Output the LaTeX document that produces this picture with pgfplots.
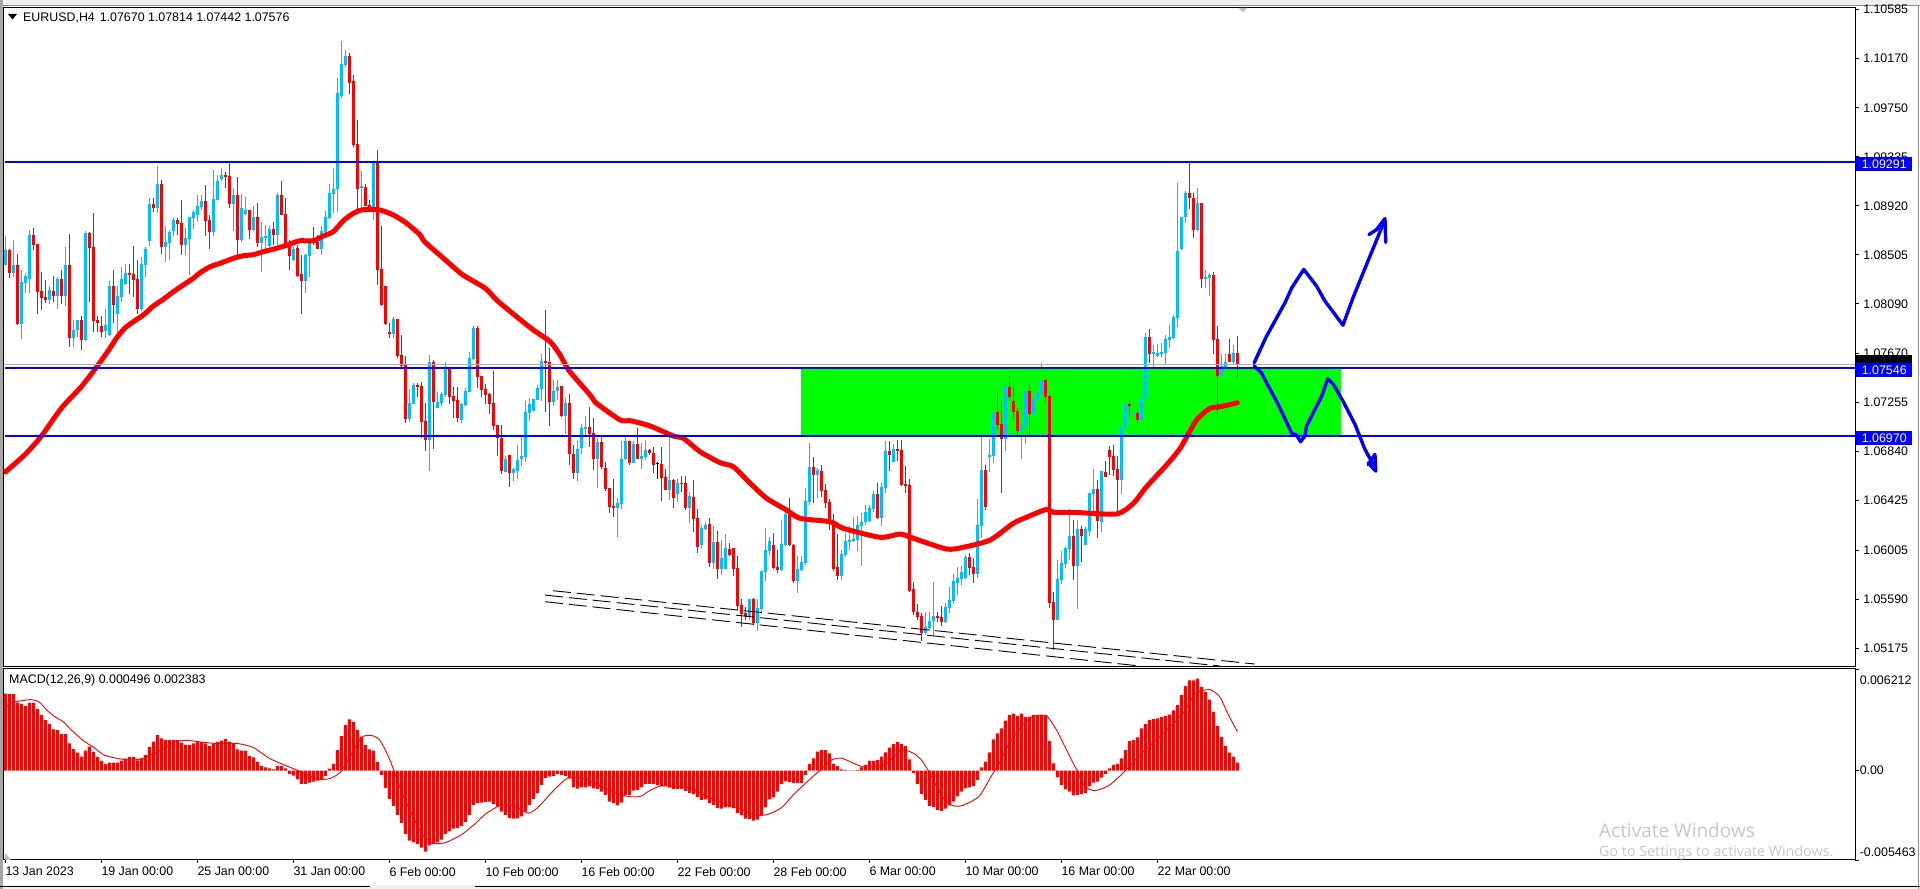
\documentclass[border=0pt]{standalone}
\usepackage{fontspec}
\setmainfont{Liberation Sans}
\newfontfamily\winfont{Open Sans}
\usepackage{pgfplots}
\usepackage{pgfplotstable}
\pgfplotsset{compat=1.18}
\definecolor{bullc}{HTML}{00BFFF}
\definecolor{bearc}{HTML}{FF0000}
\definecolor{zonec}{HTML}{00FF00}
\definecolor{linec}{HTML}{0000FF}
\definecolor{chrome}{HTML}{F0F0F0}
\newcommand{\mt}{\fontsize{12.4}{14}\selectfont}

% H4 candles: bar open high low close
\pgfplotstableread{
i o h l c
0 1.08419 1.08665 1.08419 1.08546
2 1.08354 1.08631 1.08320 1.08419
4 1.07922 1.08377 1.07795 1.08275
5 1.08269 1.08354 1.08185 1.08326
6 1.08301 1.08715 1.08179 1.08673
11 1.08123 1.08241 1.08089 1.08207
13 1.08157 1.08320 1.08046 1.08301
15 1.08157 1.08569 1.08072 1.08419
17 1.07801 1.07953 1.07727 1.07869
18 1.07869 1.07953 1.07806 1.07953
20 1.07784 1.08710 1.07775 1.08690
25 1.07860 1.08046 1.07798 1.07911
26 1.07826 1.08286 1.07818 1.08241
28 1.08004 1.08241 1.07835 1.08157
29 1.08148 1.08399 1.08109 1.08301
30 1.08258 1.08428 1.08250 1.08351
34 1.08044 1.08484 1.08029 1.08428
35 1.08419 1.08569 1.08320 1.08555
36 1.08622 1.08986 1.08580 1.08936
38 1.08902 1.09257 1.08857 1.09105
40 1.08572 1.08749 1.08444 1.08614
41 1.08605 1.08715 1.08461 1.08699
42 1.08707 1.08817 1.08665 1.08800
45 1.08588 1.08732 1.08504 1.08648
46 1.08639 1.08826 1.08334 1.08826
47 1.08817 1.08885 1.08727 1.08868
48 1.08843 1.09012 1.08795 1.08919
49 1.08910 1.09012 1.08885 1.08961
52 1.08699 1.09224 1.08665 1.08978
53 1.08970 1.09181 1.08970 1.09130
54 1.09147 1.09238 1.09130 1.09181
57 1.08936 1.09071 1.08707 1.09012
59 1.08631 1.09020 1.08614 1.08902
60 1.08851 1.08995 1.08843 1.08885
62 1.08715 1.08919 1.08707 1.08826
64 1.08603 1.08783 1.08360 1.08656
65 1.08648 1.08758 1.08546 1.08665
66 1.08580 1.08749 1.08574 1.08724
68 1.08673 1.09029 1.08588 1.09012
72 1.08461 1.08580 1.08453 1.08555
75 1.08284 1.08512 1.08182 1.08504
76 1.08495 1.08622 1.08317 1.08622
79 1.08555 1.08749 1.08504 1.08707
80 1.08699 1.08876 1.08665 1.08826
81 1.08817 1.09105 1.08809 1.09029
82 1.09020 1.09241 1.08859 1.09063
83 1.09063 1.10000 1.08868 1.09873
84 1.09850 1.10316 1.09831 1.10121
85 1.10110 1.10240 1.10099 1.10189
89 1.09074 1.09215 1.08885 1.09088
92 1.08907 1.09294 1.08800 1.09294
97 1.07835 1.07979 1.07798 1.07962
101 1.07114 1.07368 1.07089 1.07250
102 1.07241 1.07419 1.07241 1.07402
106 1.06936 1.07656 1.06674 1.07597
108 1.07207 1.07343 1.07207 1.07258
109 1.07250 1.07343 1.07224 1.07326
110 1.07317 1.07597 1.07303 1.07546
114 1.07106 1.07250 1.07080 1.07241
115 1.07230 1.07377 1.07224 1.07351
116 1.07343 1.07682 1.07343 1.07631
117 1.07622 1.07902 1.07614 1.07885
125 1.06665 1.06801 1.06665 1.06775
127 1.06657 1.06699 1.06589 1.06691
128 1.06674 1.06894 1.06606 1.06767
129 1.06775 1.06970 1.06716 1.06801
130 1.06792 1.07267 1.06750 1.07173
131 1.07165 1.07292 1.07097 1.07241
132 1.07182 1.07284 1.07182 1.07284
133 1.07275 1.07402 1.07275 1.07377
134 1.07368 1.07665 1.07267 1.07605
137 1.07258 1.07444 1.07224 1.07351
138 1.07351 1.07444 1.07275 1.07385
140 1.07140 1.07292 1.06987 1.07250
143 1.06657 1.06928 1.06589 1.06860
144 1.06869 1.07072 1.06818 1.07038
145 1.07030 1.07140 1.06970 1.07046
148 1.06775 1.06953 1.06530 1.06919
153 1.06360 1.06445 1.06115 1.06403
154 1.06394 1.06928 1.06352 1.06775
155 1.06775 1.06962 1.06767 1.06928
157 1.06742 1.06928 1.06742 1.06903
159 1.06775 1.06911 1.06691 1.06801
160 1.06792 1.06936 1.06767 1.06852
166 1.06513 1.06962 1.06428 1.06598
168 1.06479 1.06606 1.06411 1.06572
171 1.06360 1.06496 1.06233 1.06462
174 1.06047 1.06217 1.06013 1.06191
175 1.06183 1.06242 1.06174 1.06217
177 1.05895 1.06208 1.05844 1.06073
179 1.05844 1.06089 1.05793 1.05937
180 1.05844 1.06140 1.05844 1.06022
186 1.05446 1.05590 1.05412 1.05590
188 1.05386 1.05590 1.05319 1.05514
189 1.05505 1.05827 1.05471 1.05827
190 1.05818 1.06191 1.05742 1.06005
191 1.05996 1.06115 1.05962 1.06081
194 1.05835 1.06259 1.05827 1.06056
195 1.06047 1.06344 1.06039 1.06310
198 1.05742 1.05954 1.05640 1.05844
199 1.05835 1.05954 1.05827 1.05903
200 1.05895 1.06530 1.05878 1.06420
201 1.06411 1.06911 1.06386 1.06707
203 1.06640 1.06699 1.06445 1.06682
209 1.05784 1.06005 1.05750 1.05971
210 1.05962 1.06149 1.05945 1.06081
211 1.06072 1.06208 1.06005 1.06089
212 1.06081 1.06284 1.06072 1.06098
213 1.06089 1.06292 1.05996 1.06216
214 1.06208 1.06318 1.05869 1.06242
215 1.06242 1.06386 1.06216 1.06326
216 1.06250 1.06386 1.06242 1.06360
217 1.06352 1.06504 1.06326 1.06479
219 1.06276 1.06572 1.06208 1.06538
220 1.06530 1.06928 1.06487 1.06843
222 1.06750 1.06902 1.06750 1.06860
230 1.05302 1.05479 1.05285 1.05352
231 1.05344 1.05479 1.05319 1.05403
232 1.05403 1.05734 1.05276 1.05446
235 1.05395 1.05556 1.05386 1.05522
236 1.05513 1.05691 1.05471 1.05581
237 1.05573 1.05801 1.05547 1.05742
238 1.05725 1.05861 1.05623 1.05767
239 1.05759 1.05869 1.05708 1.05818
240 1.05767 1.05962 1.05759 1.05945
243 1.05801 1.06436 1.05767 1.06216
244 1.06208 1.07004 1.06106 1.06682
246 1.06795 1.06945 1.06665 1.06809
247 1.06801 1.07359 1.06741 1.07173
250 1.06945 1.07444 1.06843 1.07393
254 1.07012 1.07326 1.06775 1.07055
255 1.07046 1.07478 1.06902 1.07351
257 1.07156 1.07478 1.07139 1.07283
258 1.07275 1.07402 1.07275 1.07334
259 1.07326 1.07588 1.07317 1.07444
263 1.05412 1.05920 1.05412 1.05759
264 1.05750 1.05996 1.05717 1.05894
265 1.05886 1.06030 1.05852 1.06021
266 1.06013 1.06352 1.05920 1.06123
268 1.05869 1.06259 1.05505 1.06182
270 1.06047 1.06199 1.06047 1.06182
271 1.06165 1.06487 1.06123 1.06487
272 1.06479 1.06691 1.06318 1.06521
274 1.06242 1.06674 1.06157 1.06674
279 1.06597 1.07046 1.06479 1.07046
280 1.07038 1.07300 1.07029 1.07241
282 1.07160 1.07249 1.07105 1.07173
284 1.07105 1.07376 1.07029 1.07292
285 1.07289 1.07840 1.07233 1.07812
287 1.07665 1.07741 1.07552 1.07679
288 1.07648 1.07750 1.07637 1.07671
289 1.07668 1.07755 1.07637 1.07679
290 1.07671 1.07826 1.07572 1.07789
291 1.07784 1.07911 1.07713 1.07806
292 1.07798 1.07995 1.07789 1.07981
293 1.07973 1.09116 1.07891 1.08537
294 1.08554 1.08822 1.08546 1.08822
295 1.08822 1.09045 1.08772 1.09026
298 1.08715 1.09068 1.08707 1.08941
300 1.08303 1.08376 1.08221 1.08317
301 1.08311 1.08348 1.08159 1.08334
304 1.07481 1.07665 1.07402 1.07563
305 1.07552 1.07665 1.07552 1.07594
307 1.07594 1.07741 1.07572 1.07671
}\bullbars

\pgfplotstableread{
i o h l c
1 1.08546 1.08555 1.08306 1.08354
3 1.08419 1.08512 1.07911 1.07917
7 1.08673 1.08730 1.08546 1.08588
8 1.08597 1.08597 1.08004 1.08193
9 1.08199 1.08360 1.08038 1.08140
10 1.08148 1.08292 1.08100 1.08123
12 1.08199 1.08326 1.08109 1.08157
14 1.08301 1.08377 1.08089 1.08157
16 1.08419 1.08682 1.07722 1.07801
19 1.07953 1.07987 1.07699 1.07784
21 1.08687 1.08701 1.08109 1.08563
22 1.08572 1.08859 1.07854 1.07945
23 1.07953 1.07987 1.07854 1.07928
24 1.07902 1.07987 1.07809 1.07852
27 1.08241 1.08377 1.07925 1.08080
31 1.08351 1.08428 1.08173 1.08334
32 1.08343 1.08580 1.08151 1.08292
33 1.08301 1.08461 1.08004 1.08046
37 1.08936 1.08986 1.08868 1.08902
39 1.09105 1.09139 1.08512 1.08572
43 1.08800 1.08817 1.08673 1.08766
44 1.08775 1.08970 1.08504 1.08588
50 1.08961 1.09097 1.08665 1.08792
51 1.08800 1.08843 1.08555 1.08699
55 1.09181 1.09207 1.09071 1.09164
56 1.09173 1.09291 1.08902 1.08936
58 1.09012 1.09164 1.08495 1.08631
61 1.08885 1.08885 1.08639 1.08715
63 1.08826 1.08944 1.08572 1.08605
67 1.08724 1.08783 1.08588 1.08673
69 1.09012 1.09130 1.08843 1.08843
70 1.08851 1.08986 1.08574 1.08588
71 1.08588 1.08631 1.08377 1.08495
73 1.08563 1.08588 1.08317 1.08326
74 1.08343 1.08504 1.08004 1.08284
77 1.08648 1.08741 1.08588 1.08614
78 1.08614 1.08673 1.08555 1.08555
86 1.10189 1.10212 1.09867 1.09963
87 1.09977 1.10028 1.09421 1.09435
88 1.09441 1.09647 1.08885 1.09063
90 1.09080 1.09105 1.08919 1.08919
91 1.08930 1.08970 1.08893 1.08910
93 1.09291 1.09393 1.08250 1.08377
94 1.08385 1.08749 1.08072 1.08080
95 1.08241 1.08241 1.07911 1.07919
96 1.07852 1.07925 1.07798 1.07835
98 1.07961 1.07961 1.07628 1.07648
99 1.07656 1.07826 1.07557 1.07563
100 1.07572 1.07648 1.07080 1.07114
103 1.07402 1.07419 1.07303 1.07385
104 1.07394 1.07428 1.06953 1.07089
105 1.07097 1.07250 1.06843 1.06936
107 1.07597 1.07614 1.06860 1.07258
111 1.07546 1.07546 1.07241 1.07300
112 1.07309 1.07385 1.07123 1.07267
113 1.07275 1.07385 1.07089 1.07123
118 1.07885 1.07902 1.07377 1.07470
119 1.07478 1.07478 1.07300 1.07360
120 1.07368 1.07411 1.07241 1.07317
121 1.07326 1.07334 1.07157 1.07241
122 1.07250 1.07521 1.07021 1.07055
123 1.07063 1.07063 1.06801 1.06953
124 1.06953 1.07063 1.06648 1.06674
126 1.06809 1.06809 1.06538 1.06657
135 1.07605 1.08037 1.07173 1.07588
136 1.07597 1.07715 1.07055 1.07258
139 1.07394 1.07394 1.07131 1.07140
141 1.07250 1.07326 1.06725 1.06818
142 1.06818 1.06894 1.06606 1.06657
146 1.07046 1.07216 1.06877 1.06987
147 1.06996 1.07123 1.06682 1.06775
149 1.06919 1.06962 1.06691 1.06708
150 1.06699 1.06750 1.06504 1.06521
151 1.06530 1.06530 1.06318 1.06369
152 1.06377 1.06606 1.06284 1.06360
156 1.06928 1.06928 1.06725 1.06742
158 1.06903 1.07038 1.06775 1.06775
161 1.06852 1.06860 1.06809 1.06826
162 1.06826 1.06877 1.06657 1.06725
164 1.06733 1.06877 1.06420 1.06615
165 1.06623 1.06691 1.06513 1.06513
167 1.06598 1.06606 1.06360 1.06445
169 1.06575 1.06631 1.06496 1.06560
170 1.06572 1.06631 1.06344 1.06360
172 1.06454 1.06598 1.06157 1.06267
173 1.06276 1.06352 1.05979 1.06030
176 1.06225 1.06276 1.05861 1.05895
178 1.06073 1.06166 1.05759 1.05844
181 1.06013 1.06064 1.05954 1.05962
182 1.06022 1.06022 1.05785 1.05844
183 1.05852 1.05954 1.05497 1.05530
184 1.05539 1.05590 1.05353 1.05463
185 1.05471 1.05522 1.05412 1.05446
187 1.05590 1.05598 1.05370 1.05386
192 1.06047 1.06149 1.05844 1.05852
193 1.05861 1.06005 1.05810 1.05835
196 1.06327 1.06445 1.06039 1.06047
197 1.06047 1.06056 1.05725 1.05742
202 1.06707 1.06792 1.06403 1.06640
204 1.06674 1.06724 1.06453 1.06504
205 1.06513 1.06563 1.06360 1.06403
206 1.06411 1.06436 1.06174 1.06250
207 1.06250 1.06309 1.05827 1.05844
208 1.05861 1.06140 1.05750 1.05784
218 1.06479 1.06572 1.06267 1.06276
221 1.06843 1.06928 1.06674 1.06809
223 1.06860 1.06936 1.06758 1.06843
224 1.06851 1.06936 1.06547 1.06555
225 1.06563 1.06716 1.06487 1.06547
226 1.06555 1.06606 1.05649 1.05657
227 1.05674 1.05734 1.05454 1.05479
228 1.05479 1.05547 1.05412 1.05437
229 1.05446 1.05471 1.05234 1.05302
233 1.05446 1.05479 1.05395 1.05429
234 1.05437 1.05530 1.05361 1.05395
241 1.05945 1.05979 1.05793 1.05852
242 1.05861 1.05937 1.05725 1.05801
245 1.06682 1.06724 1.06343 1.06369
248 1.07173 1.07359 1.07021 1.07063
249 1.07072 1.07266 1.06487 1.06945
251 1.07385 1.07478 1.07266 1.07300
252 1.07266 1.07393 1.07105 1.07173
253 1.07182 1.07207 1.06978 1.07012
256 1.07351 1.07427 1.06978 1.07156
260 1.07444 1.07453 1.07249 1.07300
261 1.07309 1.07317 1.05516 1.05556
262 1.05564 1.05649 1.05158 1.05412
267 1.06123 1.06259 1.05750 1.05869
269 1.06182 1.06208 1.05903 1.06123
273 1.06521 1.06597 1.06106 1.06250
275 1.06665 1.06758 1.06623 1.06623
276 1.06851 1.06885 1.06640 1.06792
277 1.06801 1.06894 1.06631 1.06682
278 1.06691 1.06801 1.06318 1.06597
281 1.07241 1.07275 1.07122 1.07224
283 1.07165 1.07216 1.07080 1.07105
286 1.07806 1.07877 1.07586 1.07665
296 1.09026 1.09285 1.08893 1.08983
297 1.08983 1.09026 1.08650 1.08715
299 1.08941 1.08941 1.08227 1.08303
302 1.08334 1.08362 1.07665 1.07784
303 1.07789 1.07902 1.07120 1.07481
306 1.07665 1.07789 1.07594 1.07594
308 1.07670 1.07814 1.07442 1.07576
}\bearbars

% moving average, read off at its bends
\pgfplotstableread{
i p
0 1.06665
4.8 1.06809
8.9 1.06964
14 1.07205
19 1.07388
23.2 1.07572
26.2 1.07716
27.8 1.07800
29.9 1.07885
32 1.07938
34.5 1.07995
37 1.08071
39.5 1.08128
42 1.08192
44.5 1.08249
47 1.08306
48.7 1.08353
51.2 1.08404
53.7 1.08433
57 1.08475
59.5 1.08497
62 1.08506
64.5 1.08531
67.8 1.08560
70.3 1.08585
72 1.08607
73.7 1.08624
77 1.08624
79.5 1.08664
82 1.08701
84.5 1.08794
87 1.08856
89 1.08884
91.2 1.08890
93.7 1.08884
97 1.08842
100.3 1.08772
103.7 1.08673
104.8 1.08616
110 1.08461
114.4 1.08334
120 1.08221
122.8 1.08122
127.8 1.07981
132 1.07868
136.2 1.07769
138.7 1.07656
140.8 1.07529
146.2 1.07317
147.8 1.07247
153.7 1.07106
156.2 1.07100
161.2 1.07055
167 1.06970
169.5 1.06951
173.7 1.06837
178.7 1.06744
182 1.06710
186.2 1.06570
190.3 1.06443
195.3 1.06343
198.7 1.06273
206.2 1.06244
209.5 1.06188
218.7 1.06112
223.7 1.06140
227 1.06104
235.3 1.06013
239.5 1.06028
246.2 1.06089
252 1.06231
256.2 1.06295
260.3 1.06349
262 1.06324
267 1.06324
277.8 1.06310
282 1.06400
285.3 1.06541
290.3 1.06725
293.7 1.06866
297.8 1.07106
301.2 1.07205
303.7 1.07218
308 1.07252
}\matable

% MACD histogram
\pgfplotstableread{
i v
0 0.00471
1 0.00467
2 0.00467
3 0.00416
4 0.00408
5 0.00394
6 0.00414
7 0.00414
8 0.00376
9 0.00339
10 0.00309
11 0.00284
12 0.00252
13 0.00248
14 0.00223
15 0.00223
16 0.00166
17 0.00132
18 0.00110
19 0.00085
20 0.00122
21 0.00146
22 0.00114
23 0.00083
24 0.00059
25 0.00041
26 0.00049
27 0.00049
28 0.00049
29 0.00061
30 0.00073
31 0.00083
32 0.00083
33 0.00063
34 0.00075
35 0.00095
36 0.00144
37 0.00177
38 0.00217
39 0.00197
40 0.00187
41 0.00187
42 0.00187
43 0.00187
44 0.00171
45 0.00158
46 0.00158
47 0.00166
48 0.00175
49 0.00175
50 0.00166
51 0.00150
52 0.00166
53 0.00175
54 0.00183
55 0.00193
56 0.00177
57 0.00166
58 0.00130
59 0.00122
60 0.00122
61 0.00089
62 0.00081
63 0.00055
64 0.00028
65 0.00020
66 0.00014
67 0.00008
68 0.00028
69 0.00028
70 0.00014
71 -0.00020
72 -0.00030
73 -0.00053
74 -0.00081
75 -0.00081
76 -0.00073
77 -0.00067
78 -0.00061
79 -0.00053
80 -0.00032
81 0.00012
82 0.00041
83 0.00126
84 0.00211
85 0.00278
86 0.00313
87 0.00298
88 0.00248
89 0.00207
90 0.00156
91 0.00130
92 0.00122
93 0.00053
94 -0.00026
95 -0.00106
96 -0.00173
97 -0.00215
98 -0.00270
99 -0.00319
100 -0.00386
101 -0.00428
102 -0.00438
103 -0.00447
104 -0.00471
105 -0.00495
106 -0.00457
107 -0.00447
108 -0.00438
109 -0.00422
110 -0.00386
111 -0.00371
112 -0.00355
113 -0.00351
114 -0.00337
115 -0.00313
116 -0.00270
117 -0.00209
118 -0.00199
119 -0.00195
120 -0.00191
121 -0.00189
122 -0.00203
123 -0.00219
124 -0.00250
125 -0.00270
126 -0.00290
127 -0.00294
128 -0.00292
129 -0.00280
130 -0.00250
131 -0.00209
132 -0.00173
133 -0.00138
134 -0.00087
135 -0.00045
136 -0.00037
137 -0.00032
138 -0.00020
139 -0.00026
140 -0.00032
141 -0.00047
142 -0.00102
143 -0.00110
144 -0.00102
145 -0.00102
146 -0.00097
147 -0.00108
148 -0.00112
149 -0.00128
150 -0.00148
151 -0.00189
152 -0.00199
153 -0.00213
154 -0.00195
155 -0.00148
156 -0.00148
157 -0.00122
158 -0.00118
159 -0.00102
160 -0.00081
161 -0.00081
162 -0.00081
163 -0.00087
164 -0.00097
165 -0.00097
166 -0.00104
167 -0.00112
168 -0.00112
169 -0.00112
170 -0.00124
171 -0.00138
172 -0.00144
173 -0.00162
174 -0.00179
175 -0.00175
176 -0.00199
177 -0.00209
178 -0.00229
179 -0.00233
180 -0.00225
181 -0.00225
182 -0.00229
183 -0.00260
184 -0.00274
185 -0.00294
186 -0.00296
187 -0.00305
188 -0.00300
189 -0.00274
190 -0.00225
191 -0.00175
192 -0.00164
193 -0.00128
194 -0.00081
195 -0.00065
196 -0.00071
197 -0.00077
198 -0.00077
199 -0.00077
200 -0.00026
201 0.00041
202 0.00075
203 0.00116
204 0.00126
205 0.00126
206 0.00106
207 0.00041
208 0.00028
209 0.00008
210 0.00004
211 -0.00002
212 0.00002
213 0.00004
214 0.00020
215 0.00035
216 0.00059
217 0.00059
218 0.00065
219 0.00085
220 0.00112
221 0.00140
222 0.00162
223 0.00175
224 0.00162
225 0.00150
226 0.00069
227 -0.00016
228 -0.00081
229 -0.00142
230 -0.00179
231 -0.00215
232 -0.00223
233 -0.00240
234 -0.00246
235 -0.00233
236 -0.00213
237 -0.00189
238 -0.00158
239 -0.00128
240 -0.00108
241 -0.00102
242 -0.00093
243 -0.00057
244 0.00020
245 0.00055
246 0.00112
247 0.00191
248 0.00227
249 0.00258
250 0.00305
251 0.00339
252 0.00349
253 0.00333
254 0.00349
255 0.00329
256 0.00329
257 0.00339
258 0.00339
259 0.00339
260 0.00339
261 0.00181
262 0.00045
263 -0.00041
264 -0.00087
265 -0.00114
266 -0.00128
267 -0.00152
268 -0.00148
269 -0.00144
270 -0.00138
271 -0.00097
272 -0.00073
273 -0.00067
274 -0.00043
275 -0.00020
276 0.00014
277 0.00035
278 0.00041
279 0.00075
280 0.00126
281 0.00181
282 0.00187
283 0.00203
284 0.00258
285 0.00284
286 0.00309
287 0.00315
288 0.00319
289 0.00329
290 0.00335
291 0.00343
292 0.00369
293 0.00400
294 0.00461
295 0.00516
296 0.00552
297 0.00552
298 0.00562
299 0.00512
300 0.00481
301 0.00434
302 0.00359
303 0.00274
304 0.00207
305 0.00150
306 0.00110
307 0.00085
308 0.00049
}\histtable

% MACD signal line
\pgfplotstableread{
i v
0 0.00384
1.7 0.00416
3.8 0.00426
6.3 0.00434
8.4 0.00420
10.4 0.00369
12.4 0.00329
14.5 0.00298
16.5 0.00248
19.6 0.00181
22.1 0.00142
24.7 0.00095
28.3 0.00073
31.3 0.00065
33.9 0.00071
36.4 0.00095
39.5 0.00136
42.6 0.00177
45.6 0.00185
48.7 0.00175
52.8 0.00166
57.9 0.00166
61.9 0.00142
66 0.00075
69.1 0.00041
73.2 0.00000
78.3 -0.00053
81.3 -0.00047
83.9 -0.00006
86.4 0.00095
89 0.00203
91.5 0.00215
93.6 0.00187
95.6 0.00095
97.1 0.00004
99.2 -0.00138
101.7 -0.00270
104.3 -0.00392
106.8 -0.00443
109.9 -0.00441
114 -0.00392
117.6 -0.00321
120.1 -0.00264
123.7 -0.00213
127.2 -0.00215
130.8 -0.00260
133.4 -0.00219
136.4 -0.00138
140.5 -0.00047
144.6 -0.00047
148.7 -0.00093
152.8 -0.00138
155.8 -0.00158
158.7 -0.00158
160.7 -0.00128
163.8 -0.00093
167.8 -0.00097
171.4 -0.00108
175.5 -0.00158
180.1 -0.00205
183.2 -0.00229
187.2 -0.00270
190.3 -0.00270
193.9 -0.00229
197 -0.00148
200.5 -0.00067
203.6 0.00000
206.6 0.00065
209.2 0.00075
214.3 0.00024
219.9 0.00035
224 0.00126
227 0.00106
229 0.00065
231.1 -0.00016
234.2 -0.00158
236.7 -0.00213
239.3 -0.00213
243.4 -0.00158
246.4 -0.00037
248.5 0.00045
250.5 0.00146
253.6 0.00258
256.6 0.00329
260.2 0.00335
262.8 0.00248
265.3 0.00126
267.9 0.00000
269.9 -0.00097
272.5 -0.00122
276.1 -0.00087
280.2 0.00004
283.2 0.00085
286.3 0.00156
290.4 0.00248
294.4 0.00349
297.5 0.00471
301.1 0.00495
303.6 0.00451
305.6 0.00349
308 0.00238
}\signaltable

\begin{document}
\begin{tikzpicture}[x=1pt,y=1pt]
\useasboundingbox (0,0) rectangle (1920,889);
\fill[white] (0,0) rectangle (1920,889);
% terminal window around the panes
\fill[chrome] (0,884) rectangle (1920,889);
\fill[chrome] (0,0) rectangle (1920,4);
\draw[black!45,line width=1pt] (0,883.5) -- (1920,883.5);
\fill[black!35] (0,0) rectangle (2.5,889);
\draw[black!45,line width=1pt] (1918,0) -- (1918,884);
\draw[black,line width=1pt] (0,2) -- (370,2);
\draw[black,line width=1pt] (475,2) -- (1920,2);

% price pane
\begin{axis}[
    at={(4pt,222pt)}, anchor=south west,
    scale only axis, width=1851pt, height=659pt,
    xmin=-0.33, xmax=462.42,
    ymin=1.05014, ymax=1.10595,
    xtick=\empty,
    axis line style={line width=1pt},
    tick style={black,line width=0.8pt},
    major tick length=4pt,
    tick align=outside,
    ytick pos=right,
    yticklabel pos=right,
    scaled y ticks=false,
    ytick={1.05175,1.05590,1.06005,1.06425,1.06840,1.07255,1.07670,1.08090,1.08505,1.08920,1.09335,1.09750,1.10170,1.10585},
    yticklabels={1.05175,1.05590,1.06005,1.06425,1.06840,1.07255,1.07670,1.08090,1.08505,1.08920,1.09335,1.09750,1.10170,1.10585},
    yticklabel style={font=\mt,anchor=west,inner xsep=0pt,xshift=4pt},
]
% demand zone
\addplot[fill=zonec,draw=none,forget plot] coordinates {(198.9,1.07546) (333.9,1.07546) (333.9,1.06970) (198.9,1.06970)} -- cycle;
% wicks
\addplot[draw=none,mark=none,error bars/.cd,y dir=minus,y explicit,error mark=none,
    error bar style={draw=bullc,line width=1pt}]
    table[x=i,y=h,y error minus expr=\thisrow{h}-\thisrow{l}] {\bullbars};
\addplot[draw=none,mark=none,error bars/.cd,y dir=minus,y explicit,error mark=none,
    error bar style={draw=bearc,line width=1pt}]
    table[x=i,y=h,y error minus expr=\thisrow{h}-\thisrow{l}] {\bearbars};
% bodies
\addplot[draw=none,mark=none,error bars/.cd,y dir=minus,y explicit,error mark=none,
    error bar style={draw=bullc,line width=3pt}]
    table[x=i,y=c,y error minus expr=\thisrow{c}-\thisrow{o}] {\bullbars};
\addplot[draw=none,mark=none,error bars/.cd,y dir=minus,y explicit,error mark=none,
    error bar style={draw=bearc,line width=3pt}]
    table[x=i,y=o,y error minus expr=\thisrow{o}-\thisrow{c}] {\bearbars};
\addplot[black,line width=1pt] coordinates {(163,1.06750) (163,1.06606)};
\addplot[black,line width=1pt] coordinates {(162.6,1.06735) (163.4,1.06735)};
% moving average
\addplot[bearc,line width=5pt,line join=round,line cap=round,smooth,tension=0.4] table[x=i,y=p] {\matable};
% levels
\addplot[black!30,line width=1.2pt] coordinates {(0,1.07576) (462.42,1.07576)};
\addplot[linec,line width=2pt] coordinates {(0,1.09291) (462.42,1.09291)};
\addplot[linec,line width=2pt] coordinates {(0,1.07546) (462.42,1.07546)};
\addplot[linec,line width=2pt] coordinates {(0,1.06970) (462.42,1.06970)};
% channel
\addplot[black,line width=0.9pt,dash pattern=on 18pt off 6pt] coordinates {(136.9,1.05660) (312.4,1.05039)};
\addplot[black,line width=0.9pt,dash pattern=on 18pt off 6pt] coordinates {(134.9,1.05623) (303.7,1.05022)};
\addplot[black,line width=0.9pt,dash pattern=on 18pt off 6pt] coordinates {(134.9,1.05567) (283.7,1.05022)};
% hand drawn scenarios
\addplot[linec,line width=3.4pt,line join=round,line cap=round] coordinates {
(312.2,1.07590) (315.3,1.07816) (319.9,1.08098) (321.6,1.08225) (324.6,1.08381)
(327.8,1.08240) (329.9,1.08113) (334.4,1.07909) (336.9,1.08140) (340.3,1.08423) (344.9,1.08803)};
\addplot[linec,line width=3.4pt,line join=round,line cap=round] coordinates {(340.9,1.08676) (342.8,1.08718) (344.9,1.08811) (345.1,1.08609)};
\addplot[linec,line width=3.4pt,line join=round,line cap=round] coordinates {
(312.2,1.07563) (314,1.07506) (315.3,1.07421) (318.2,1.07238) (321.6,1.06993) (322.8,1.06979)
(323.8,1.06922) (324.9,1.06970) (325.3,1.07055) (327,1.07168) (329.1,1.07309) (330.6,1.07455)
(332,1.07408) (334.4,1.07266) (337.4,1.07069) (339.9,1.06857) (342.4,1.06701)};
\addplot[linec,line width=3.4pt,line join=round,line cap=round] coordinates {(340.7,1.06729) (342.4,1.06814) (342.6,1.06673) (340.7,1.06743)};
\coordinate (lbA) at (axis cs:462.42,1.09291);
\coordinate (lbB) at (axis cs:462.42,1.07546);
\coordinate (lbC) at (axis cs:462.42,1.06970);
\coordinate (lbD) at (axis cs:462.42,1.07576);
\end{axis}

% MACD pane
\begin{axis}[
    at={(4pt,29pt)}, anchor=south west,
    scale only axis, width=1851pt, height=191pt,
    xmin=-0.33, xmax=462.42,
    ymin=-0.005463, ymax=0.006212,
    axis line style={line width=1pt},
    tick style={black,line width=0.8pt},
    major tick length=3.5pt,
    tick align=outside,
    xtick pos=bottom,
    ytick pos=right,
    yticklabel pos=right,
    scaled y ticks=false,
    xtick={0,24,48,72,96,120,144,168,192,216,240,264,288},
    xticklabels={13 Jan 2023,19 Jan 00:00,25 Jan 00:00,31 Jan 00:00,6 Feb 00:00,10 Feb 00:00,16 Feb 00:00,22 Feb 00:00,28 Feb 00:00,6 Mar 00:00,10 Mar 00:00,16 Mar 00:00,22 Mar 00:00},
    xticklabel style={font=\mt,anchor=north west,inner xsep=0pt,inner ysep=0pt,yshift=-3.5pt},
    ytick={-0.005463,0,0.006212},
    yticklabels={\raisebox{15pt}{-0.005463},0.00,\raisebox{-32pt}{0.006212}},
    yticklabel style={font=\mt,anchor=west,inner xsep=0pt,xshift=1pt},
]
\addplot[ybar,bar width=3pt,bar shift=0pt,fill=bearc,draw=none] table[x=i,y=v] {\histtable};
\addplot[bearc,line width=0.9pt,line join=round,smooth,tension=0.4] table[x=i,y=v] {\signaltable};
\end{axis}

% last price and level labels
\node[fill=black,text=white,minimum width=56pt,minimum height=8pt,inner sep=0pt,anchor=west,font=\mt] at ([xshift=1pt,yshift=5pt]lbD) {};
\foreach \c/\t in {lbA/1.09291,lbB/1.07546,lbC/1.06970}
  \node[fill=linec,text=white,minimum width=56pt,minimum height=14pt,inner sep=0pt,anchor=west,font=\mt] at ([xshift=1pt,yshift=-2pt]\c) {\t};

% pane captions
\node[anchor=west,inner sep=0pt,font=\mt] at (23,871) {EURUSD,H4\hspace{5pt}1.07670 1.07814 1.07442 1.07576};
\fill[black] (8,875) -- (17,875) -- (12.5,869.5) -- cycle;
\node[anchor=west,inner sep=0pt,font=\mt] at (9,209) {MACD(12,26,9) 0.000496 0.002383};
\fill[black!25] (5,29) -- (5,36) -- (11,29) -- cycle;
\fill[black!25] (1239,881) -- (1247,881) -- (1243,876.5) -- cycle;

% watermark
\node[anchor=west,inner sep=0pt,text=black!22,font=\winfont\fontsize{19}{22}\selectfont] at (1599,59) {Activate Windows};
\node[anchor=west,inner sep=0pt,text=black!22,font=\winfont\fontsize{14.3}{15}\selectfont] at (1599,36) {Go to Settings to activate Windows.};
\end{tikzpicture}
\end{document}
